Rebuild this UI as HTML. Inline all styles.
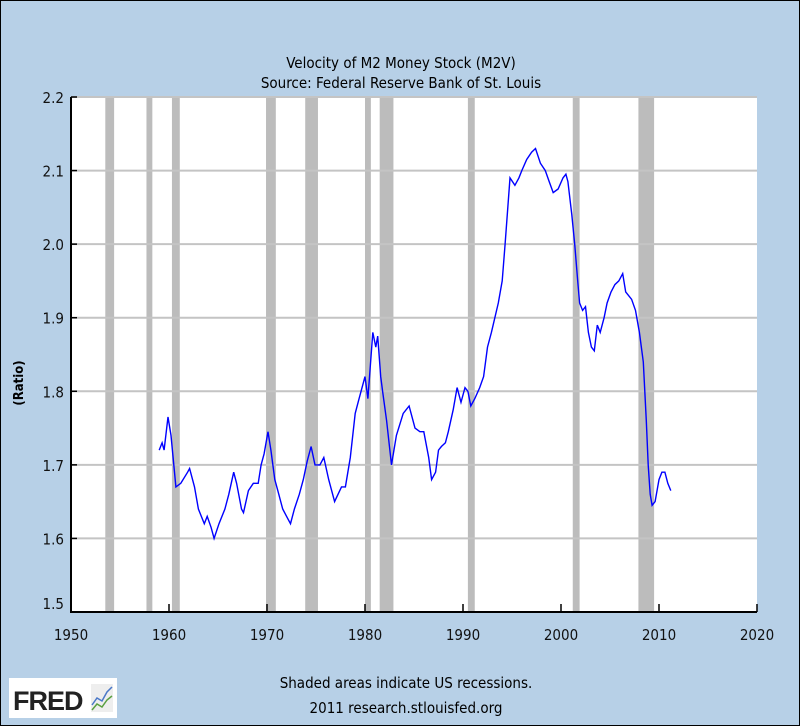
<!DOCTYPE html>
<html><head><meta charset="utf-8"><style>
body{margin:0;background:#fff}
#wrap{position:relative;width:798px;height:724px;background:#b7d0e7;border:1px solid #000;font-family:"DejaVu Sans Condensed","Liberation Sans",sans-serif;color:#111}
svg{position:absolute;left:0;top:0}
</style></head><body>
<div id="wrap">
<svg id="c" width="800" height="726"></svg>
</div>
<script>
const years=[1959.0,1959.3,1959.5,1959.9,1960.2,1960.7,1961.2,1961.9,1962.1,1962.6,1963.0,1963.6,1963.9,1964.3,1964.6,1965.1,1965.7,1966.1,1966.6,1966.9,1967.4,1967.6,1968.1,1968.6,1969.1,1969.4,1969.7,1970.1,1970.4,1970.8,1971.1,1971.6,1972.0,1972.4,1972.8,1973.3,1973.7,1974.1,1974.5,1974.9,1975.4,1975.8,1976.3,1976.9,1977.6,1978.0,1978.5,1979.0,1979.4,1980.0,1980.3,1980.8,1981.1,1981.3,1981.6,1981.8,1982.2,1982.7,1983.2,1983.9,1984.5,1985.1,1985.6,1986.0,1986.5,1986.8,1987.2,1987.5,1987.8,1988.2,1988.5,1989.0,1989.4,1989.8,1990.2,1990.5,1990.8,1991.2,1991.7,1992.1,1992.5,1992.9,1993.6,1994.0,1994.3,1994.8,1995.3,1995.7,1996.0,1996.5,1997.0,1997.4,1997.9,1998.4,1998.8,1999.2,1999.7,2000.2,2000.5,2000.7,2001.1,2001.4,2001.7,2001.9,2002.2,2002.5,2002.8,2003.1,2003.4,2003.7,2004.0,2004.4,2004.7,2005.1,2005.5,2005.9,2006.3,2006.6,2007.2,2007.6,2008.0,2008.4,2008.7,2008.9,2009.1,2009.3,2009.6,2010.0,2010.3,2010.6,2010.9,2011.2];
const values=[1.72,1.73,1.72,1.765,1.74,1.67,1.675,1.69,1.695,1.67,1.64,1.62,1.63,1.615,1.60,1.62,1.64,1.66,1.69,1.675,1.64,1.635,1.665,1.675,1.675,1.70,1.715,1.745,1.72,1.68,1.665,1.64,1.63,1.62,1.64,1.66,1.68,1.705,1.725,1.70,1.70,1.71,1.68,1.65,1.67,1.67,1.71,1.77,1.79,1.82,1.79,1.88,1.86,1.875,1.82,1.80,1.76,1.70,1.74,1.77,1.78,1.75,1.745,1.745,1.71,1.68,1.69,1.72,1.725,1.73,1.745,1.775,1.805,1.785,1.805,1.80,1.78,1.79,1.805,1.82,1.86,1.88,1.92,1.95,2.00,2.09,2.08,2.09,2.10,2.115,2.125,2.13,2.11,2.10,2.085,2.07,2.075,2.09,2.095,2.085,2.04,2.0,1.95,1.92,1.91,1.915,1.88,1.86,1.855,1.89,1.88,1.90,1.92,1.935,1.945,1.95,1.96,1.935,1.925,1.91,1.88,1.84,1.76,1.70,1.66,1.645,1.65,1.68,1.69,1.69,1.675,1.665];
const recStart=[1953.5,1957.7,1960.3,1969.9,1973.9,1980.0,1981.5,1990.5,2001.2,2007.9];
const recEnd=[1954.4,1958.3,1961.1,1970.9,1975.2,1980.6,1982.9,1991.2,2001.9,2009.5];
const yTicks=[1.5,1.6,1.7,1.8,1.9,2.0,2.1,2.2];
const xTicks=[1950,1960,1970,1980,1990,2000,2010,2020];
const L=70,R=756,T=96,B=611;
const X=y=>L+(y-1950)/70*(R-L);
const Y=v=>B-(v-1.5)/0.7*(B-T);
const svg=document.getElementById('c');
const NS='http://www.w3.org/2000/svg';
function mk(t,a,p){const e=document.createElementNS(NS,t);for(const k in a)e.setAttribute(k,a[k]);(p||svg).appendChild(e);return e;}
let e;
e=mk('rect',{x:L,y:T,width:R-L,height:B-T,fill:'#fff'});


recStart.forEach((s,i)=>{e=mk('rect',{x:X(s),y:T,width:X(recEnd[i])-X(s),height:B-T,fill:'#bcbcbc'});

});
yTicks.forEach(v=>{if(v>1.5){e=mk('line',{x1:L,x2:R,y1:Y(v),y2:Y(v),stroke:'#c4c4c4','stroke-width':2});

}
e=mk('line',{x1:L,x2:L+6,y1:Y(v),y2:Y(v),stroke:'#000','stroke-width':1.5});


e=mk('text',{x:L-7,y:Y(v)+(v==1.5?-3:6),'text-anchor':'end','font-size':15,fill:'#111'});e.textContent=v.toFixed(1);

});
xTicks.forEach(y=>{e=mk('line',{x1:X(y),x2:X(y),y1:B,y2:B-8,stroke:'#000','stroke-width':1.5});


e=mk('text',{x:X(y),y:639,'text-anchor':'middle','font-size':15,fill:'#111'});e.textContent=y;

});
e=mk('path',{d:`M${L} ${T}V${B}H${R}`,fill:'none',stroke:'#000','stroke-width':2});


e=mk('polyline',{points:years.map((y,i)=>X(y).toFixed(1)+','+Y(values[i]).toFixed(1)).join(' '),fill:'none',stroke:'#0000ff','stroke-width':1.4});


e=mk('text',{x:400,y:67,'text-anchor':'middle','font-size':15});e.textContent='Velocity of M2 Money Stock (M2V)';


e=mk('text',{x:400,y:87,'text-anchor':'middle','font-size':15});e.textContent='Source: Federal Reserve Bank of St. Louis';


e=mk('text',{x:22,y:382,'text-anchor':'middle','font-size':13,'font-weight':'bold',transform:'rotate(-90 22 382)'});e.textContent='(Ratio)';


e=mk('text',{x:405,y:687,'text-anchor':'middle','font-size':15});e.textContent='Shaded areas indicate US recessions.';


e=mk('text',{x:405,y:712,'text-anchor':'middle','font-size':15});e.textContent='2011 research.stlouisfed.org';


const g=mk('g',{});


mk('rect',{x:8,y:677,width:108,height:40,fill:'#fff'},g);
mk('text',{x:12,y:709,'font-size':27,'font-weight':'bold','font-family':'Liberation Sans, sans-serif',fill:'#222','letter-spacing':'-1'},g).textContent='FRED';
mk('rect',{x:90,y:683,width:22,height:28,fill:'#eee'},g);
mk('polyline',{points:'91,704 96,697 101,700 106,691 111,686',fill:'none',stroke:'#4a78c8','stroke-width':1.5},g);
mk('polyline',{points:'91,709 96,703 101,706 106,699 111,695',fill:'none',stroke:'#5aa040','stroke-width':1.5},g);
</script>
</body></html>
